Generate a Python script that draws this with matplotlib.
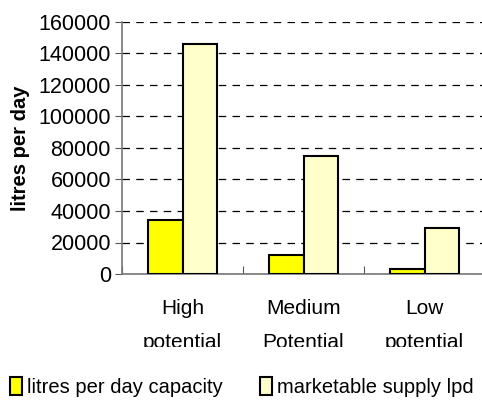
import matplotlib
matplotlib.use("Agg")
import matplotlib.pyplot as plt
import numpy as np
from matplotlib.transforms import Bbox, TransformedBbox
from matplotlib.patches import Patch

categories = ["High\npotential", "Medium\nPotential", "Low\npotential"]
capacity = [34000, 12000, 3400]
marketable = [146000, 75000, 29500]
series_names = ["litres per day capacity", "marketable supply lpd"]
yticks = [0, 20000, 40000, 60000, 80000, 100000, 120000, 140000, 160000]

plt.rcParams['font.family'] = ['Liberation Sans', 'DejaVu Sans']

W, H = 482, 401
fig = plt.figure(figsize=(W/100, H/100), dpi=100)
ax = fig.add_axes([122/W, 1-274/H, 363/W, (274-22)/H])

x = np.arange(len(categories))
bw = 0.285
c1 = "#FFFF00"
c2 = "#FFFFCC"
ax.bar(x - bw/2, capacity, bw, color=c1, edgecolor="black", linewidth=1.5, zorder=3)
ax.bar(x + bw/2, marketable, bw, color=c2, edgecolor="black", linewidth=1.5, zorder=3)

ax.set_xlim(-0.5, 2.5)
ax.set_ylim(0, 160000)
ax.set_yticks(yticks)
ax.set_yticklabels([str(v) for v in yticks], fontsize=15.5)
ax.yaxis.grid(True, color="black", linestyle=(0, (6, 5)), linewidth=0.9)
ax.set_axisbelow(True)

ax.set_xticks([-0.5, 0.5, 1.5, 2.5], minor=False)
ax.set_xticklabels([])
ax.set_xticks(x, minor=True)
ax.set_xticklabels(categories, minor=True, fontsize=15, linespacing=2.0)
ax.tick_params(axis='x', which='major', direction='in', length=6, color="#555555")
ax.tick_params(axis='x', which='minor', length=0, pad=18)
ax.tick_params(axis='y', direction='out', length=5, color="#555555", pad=3)

for s in ["top", "right"]:
    ax.spines[s].set_visible(False)
ax.spines["left"].set_color("#777777")
ax.spines["bottom"].set_color("#777777")
ax.spines["left"].set_linewidth(1.2)
ax.spines["bottom"].set_linewidth(1.2)

ax.set_ylabel("litres per day", fontsize=14.5, fontweight="bold", labelpad=6)

clipbox = TransformedBbox(Bbox([[0, 54/H], [1, 1]]), fig.transFigure)
for lbl in ax.get_xticklabels(minor=True):
    lbl.set_clip_box(clipbox)
    lbl.set_clip_on(True)

handles = [Patch(facecolor=c1, edgecolor="black", linewidth=1.5),
           Patch(facecolor=c2, edgecolor="black", linewidth=1.5)]
fig.legend(handles, series_names, loc="lower left", bbox_to_anchor=(2/W, -4/H),
           ncol=2, frameon=False, fontsize=14.5, handlelength=0.6, handleheight=1.05,
           handletextpad=0.25, columnspacing=1.85, borderaxespad=0.0)

fig.savefig("out.png", dpi=100)
